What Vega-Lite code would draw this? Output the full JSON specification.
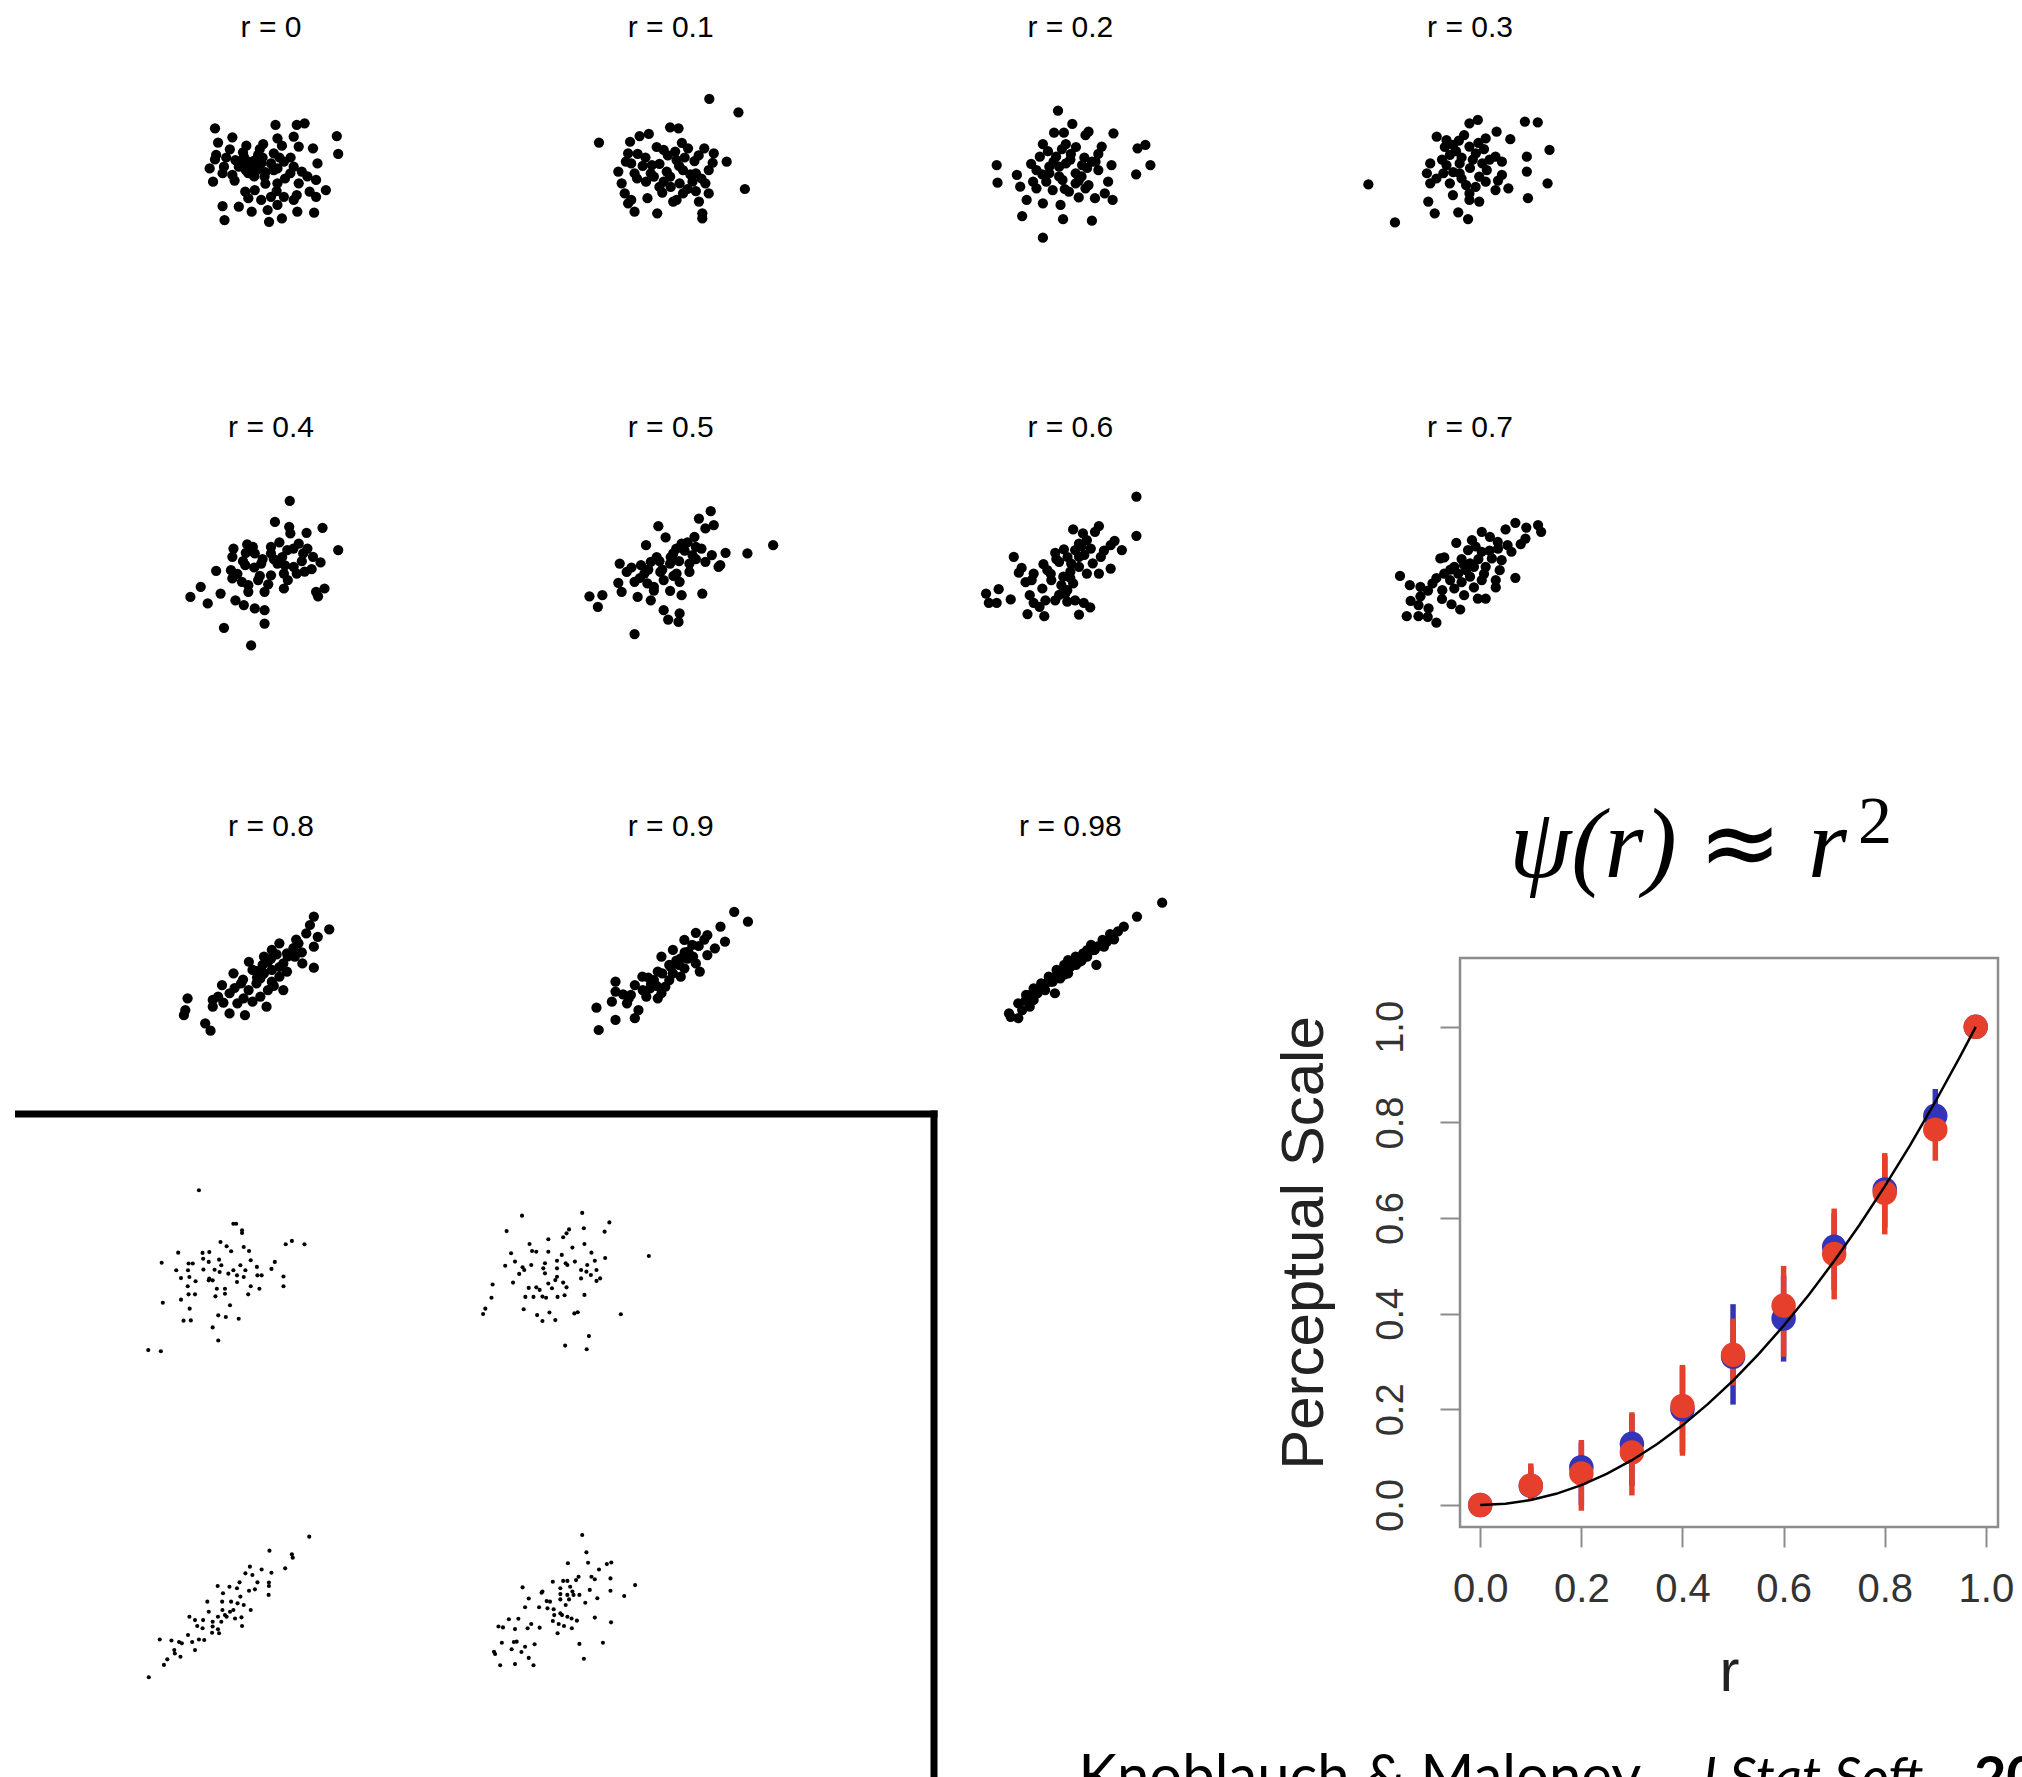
{
"$schema":"https://vega.github.io/schema/vega-lite/v6.json",
"width":2022,"height":1777,
"autosize":{"type":"none"},
"padding":0,
"background":"white",
"config":{"view":{"stroke":null},"font":"Liberation Sans"},
"datasets":{
"panels":[
{"p":"0","label":"r = 0","col":0,"row":0},{"p":"0.1","label":"r = 0.1","col":1,"row":0},{"p":"0.2","label":"r = 0.2","col":2,"row":0},{"p":"0.3","label":"r = 0.3","col":3,"row":0},
{"p":"0.4","label":"r = 0.4","col":0,"row":1},{"p":"0.5","label":"r = 0.5","col":1,"row":1},{"p":"0.6","label":"r = 0.6","col":2,"row":1},{"p":"0.7","label":"r = 0.7","col":3,"row":1},
{"p":"0.8","label":"r = 0.8","col":0,"row":2},{"p":"0.9","label":"r = 0.9","col":1,"row":2},{"p":"0.98","label":"r = 0.98","col":2,"row":2}],
"panels2":[{"q":"a","col":0,"row":0},{"q":"b","col":1,"row":0},{"q":"c","col":0,"row":1},{"q":"d","col":1,"row":1}],
"big":[
{"p":"0","x":-2.0,"y":1.89},{"p":"0","x":0.16,"y":2.05},{"p":"0","x":0.92,"y":2.05},{"p":"0","x":1.2,"y":2.13},{"p":"0","x":2.35,"y":1.52},{"p":"0","x":2.4,"y":0.67},{"p":"0","x":-1.89,"y":1.21},{"p":"0","x":-1.38,"y":1.46},{"p":"0","x":-1.47,"y":0.89},{"p":"0","x":-0.88,"y":1.06},{"p":"0","x":-0.28,"y":1.14},{"p":"0","x":0.23,"y":1.41},{"p":"0","x":0.39,"y":1.06},{"p":"0","x":0.81,"y":1.49},{"p":"0","x":0.99,"y":1.02},{"p":"0","x":1.5,"y":0.94},{"p":"0","x":-1.96,"y":0.62},{"p":"0","x":-2.0,"y":0.41},{"p":"0","x":-1.68,"y":0.06},{"p":"0","x":-2.19,"y":-0.02},{"p":"0","x":-2.07,"y":-0.65},{"p":"0","x":-1.38,"y":-0.33},{"p":"0","x":-1.27,"y":0.38},{"p":"0","x":-0.97,"y":0.54},{"p":"0","x":-0.69,"y":0.06},{"p":"0","x":-0.46,"y":0.62},{"p":"0","x":-0.35,"y":0.22},{"p":"0","x":-0.81,"y":-0.25},{"p":"0","x":0,"y":0.22},{"p":"0","x":0.46,"y":0.3},{"p":"0","x":0.81,"y":0.06},{"p":"0","x":0.69,"y":-0.25},{"p":"0","x":1.1,"y":-0.17},{"p":"0","x":1.66,"y":0.22},{"p":"0","x":0.99,"y":-0.73},{"p":"0","x":1.61,"y":-0.57},{"p":"0","x":1.96,"y":-1.05},{"p":"0","x":1.38,"y":-1.13},{"p":"0","x":1.61,"y":-1.37},{"p":"0","x":-0.92,"y":-1.13},{"p":"0","x":-0.58,"y":-1.05},{"p":"0","x":-0.81,"y":-1.44},{"p":"0","x":-0.35,"y":-1.52},{"p":"0","x":0,"y":-1.37},{"p":"0","x":0.23,"y":-0.73},{"p":"0","x":0.46,"y":-1.37},{"p":"0","x":0.81,"y":-1.52},{"p":"0","x":0.92,"y":-1.29},{"p":"0","x":-1.73,"y":-1.81},{"p":"0","x":-1.15,"y":-1.84},{"p":"0","x":-0.69,"y":-2.08},{"p":"0","x":-0.12,"y":-2.0},{"p":"0","x":0.23,"y":-1.76},{"p":"0","x":0.94,"y":-2.08},{"p":"0","x":1.54,"y":-2.13},{"p":"0","x":-1.66,"y":-2.48},{"p":"0","x":-0.07,"y":-2.56},{"p":"0","x":0.39,"y":-2.4},{"p":"0","x":-0.51,"y":-0.1},{"p":"0","x":-0.23,"y":-0.41},{"p":"0","x":-1.15,"y":0.06},{"p":"0","x":-1.73,"y":-0.25},{"p":"0","x":0.23,"y":-0.02},{"p":"0","x":-0.8,"y":0.3},{"p":"0","x":-0.5,"y":0.0},{"p":"0","x":-0.3,"y":0.5},{"p":"0","x":0.1,"y":-0.1},{"p":"0","x":-0.6,"y":-0.4},
{"p":"0","x":-1.1,"y":0.2},{"p":"0","x":-0.9,"y":-0.1},{"p":"0","x":-0.6,"y":0.35},{"p":"0","x":-0.2,"y":-0.2},{"p":"0","x":0.3,"y":0.5},{"p":"0","x":0.5,"y":-0.5},{"p":"0","x":-1.3,"y":-0.6},{"p":"0","x":0.1,"y":0.7},{"p":"0","x":-0.4,"y":0.9},{"p":"0","x":0.7,"y":0.5},{"p":"0","x":-1.0,"y":0.75},{"p":"0","x":0.2,"y":-1.1},{"p":"0","x":-0.2,"y":-0.75},{"p":"0","x":1.3,"y":-0.4},{"p":"0","x":-1.6,"y":0.5},
{"p":"0.1","x":1.38,"y":3.29},{"p":"0.1","x":2.42,"y":2.65},{"p":"0.1","x":-2.56,"y":1.21},{"p":"0.1","x":-0.02,"y":1.94},{"p":"0.1","x":0.28,"y":1.89},{"p":"0.1","x":-0.78,"y":1.62},{"p":"0.1","x":-1.11,"y":1.52},{"p":"0.1","x":-1.45,"y":1.25},{"p":"0.1","x":-0.25,"y":0.86},{"p":"0.1","x":0.16,"y":0.78},{"p":"0.1","x":0.62,"y":0.94},{"p":"0.1","x":1.2,"y":0.94},{"p":"0.1","x":1.54,"y":0.7},{"p":"0.1","x":-1.52,"y":0.7},{"p":"0.1","x":-1.18,"y":0.67},{"p":"0.1","x":-1.41,"y":0.22},{"p":"0.1","x":-0.67,"y":0.14},{"p":"0.1","x":0.21,"y":0.38},{"p":"0.1","x":0.85,"y":0.33},{"p":"0.1","x":1.5,"y":0.25},{"p":"0.1","x":2.0,"y":0.3},{"p":"0.1","x":-1.87,"y":-0.17},{"p":"0.1","x":-1.29,"y":-0.25},{"p":"0.1","x":-0.71,"y":-0.25},{"p":"0.1","x":-0.14,"y":-0.17},{"p":"0.1","x":0.44,"y":-0.1},{"p":"0.1","x":0.9,"y":-0.25},{"p":"0.1","x":1.36,"y":-0.1},{"p":"0.1","x":-0.88,"y":-0.65},{"p":"0.1","x":-0.25,"y":-0.65},{"p":"0.1","x":0.32,"y":-0.73},{"p":"0.1","x":0.78,"y":-0.65},{"p":"0.1","x":1.24,"y":-0.73},{"p":"0.1","x":2.65,"y":-1.0},{"p":"0.1","x":-1.75,"y":-0.73},{"p":"0.1","x":-1.64,"y":-1.21},{"p":"0.1","x":-1.41,"y":-1.52},{"p":"0.1","x":-0.83,"y":-1.44},{"p":"0.1","x":-0.3,"y":-1.17},{"p":"0.1","x":0.21,"y":-1.52},{"p":"0.1","x":0.44,"y":-1.21},{"p":"0.1","x":1.01,"y":-1.6},{"p":"0.1","x":1.36,"y":-1.21},{"p":"0.1","x":-1.52,"y":-1.68},{"p":"0.1","x":-1.29,"y":-2.08},{"p":"0.1","x":-0.48,"y":-2.16},{"p":"0.1","x":0.09,"y":-1.6},{"p":"0.1","x":1.13,"y":-2.16},{"p":"0.1","x":1.13,"y":-2.4},{"p":"0.1","x":-0.6,"y":-0.41},{"p":"0.1","x":-0.02,"y":-0.41},{"p":"0.1","x":-0.9,"y":0.5},{"p":"0.1","x":0.5,"y":0.5},{"p":"0.1","x":-0.4,"y":-0.9},{"p":"0.1","x":0.6,"y":-1.0},
{"p":"0.1","x":-1.0,"y":0.1},{"p":"0.1","x":-0.4,"y":0.2},{"p":"0.1","x":0.3,"y":0.1},{"p":"0.1","x":1.0,"y":0.6},{"p":"0.1","x":-1.2,"y":-0.5},{"p":"0.1","x":0.0,"y":-0.9},{"p":"0.1","x":0.7,"y":-0.3},{"p":"0.1","x":-0.5,"y":1.0},{"p":"0.1","x":1.1,"y":-0.5},{"p":"0.1","x":-1.6,"y":0.3},{"p":"0.1","x":0.4,"y":1.2},{"p":"0.1","x":0.9,"y":-1.1},{"p":"0.1","x":-0.1,"y":0.6},
{"p":"0.2","x":-0.44,"y":2.73},{"p":"0.2","x":0.07,"y":2.1},{"p":"0.2","x":-0.58,"y":1.68},{"p":"0.2","x":-0.23,"y":1.68},{"p":"0.2","x":0.65,"y":1.73},{"p":"0.2","x":0.54,"y":1.57},{"p":"0.2","x":1.54,"y":1.65},{"p":"0.2","x":-0.98,"y":1.14},{"p":"0.2","x":-0.16,"y":1.14},{"p":"0.2","x":1.12,"y":1.02},{"p":"0.2","x":2.4,"y":0.94},{"p":"0.2","x":2.68,"y":1.1},{"p":"0.2","x":-1.09,"y":0.54},{"p":"0.2","x":-0.51,"y":0.54},{"p":"0.2","x":0.02,"y":0.67},{"p":"0.2","x":1.0,"y":0.67},{"p":"0.2","x":0.77,"y":0.3},{"p":"0.2","x":-1.91,"y":-0.33},{"p":"0.2","x":-1.21,"y":-0.1},{"p":"0.2","x":-0.75,"y":0.06},{"p":"0.2","x":-0.16,"y":0.22},{"p":"0.2","x":0.42,"y":0.14},{"p":"0.2","x":1.0,"y":-0.1},{"p":"0.2","x":1.47,"y":0.14},{"p":"0.2","x":2.86,"y":0.14},{"p":"0.2","x":2.35,"y":-0.3},{"p":"0.2","x":-1.33,"y":-0.65},{"p":"0.2","x":-0.86,"y":-0.65},{"p":"0.2","x":-0.28,"y":-0.57},{"p":"0.2","x":0.19,"y":-0.73},{"p":"0.2","x":0.65,"y":-0.81},{"p":"0.2","x":1.35,"y":-0.65},{"p":"0.2","x":-1.79,"y":-0.89},{"p":"0.2","x":-1.21,"y":-0.97},{"p":"0.2","x":-0.63,"y":-1.05},{"p":"0.2","x":-0.05,"y":-1.13},{"p":"0.2","x":0.54,"y":-0.97},{"p":"0.2","x":1.23,"y":-1.21},{"p":"0.2","x":-1.56,"y":-1.52},{"p":"0.2","x":-0.98,"y":-1.68},{"p":"0.2","x":-0.35,"y":-1.76},{"p":"0.2","x":0.3,"y":-1.4},{"p":"0.2","x":0.88,"y":-1.44},{"p":"0.2","x":1.51,"y":-1.52},{"p":"0.2","x":-1.72,"y":-2.29},{"p":"0.2","x":-0.26,"y":-2.44},{"p":"0.2","x":0.77,"y":-2.51},{"p":"0.2","x":-0.98,"y":-3.32},{"p":"0.2","x":-0.75,"y":-0.25},{"p":"0.2","x":0.19,"y":-0.25},{"p":"0.2","x":-0.4,"y":0.06},{"p":"0.2","x":-2.63,"y":0.14},{"p":"0.2","x":-2.6,"y":-0.7},{"p":"0.2","x":-0.3,"y":0.9},{"p":"0.2","x":0.4,"y":-0.4},
{"p":"0.2","x":-0.6,"y":0.3},{"p":"0.2","x":0.0,"y":0.4},{"p":"0.2","x":0.6,"y":0.0},{"p":"0.2","x":-1.0,"y":-0.3},{"p":"0.2","x":-0.4,"y":-0.4},{"p":"0.2","x":0.3,"y":-0.6},{"p":"0.2","x":0.9,"y":0.3},{"p":"0.2","x":-0.8,"y":0.8},{"p":"0.2","x":0.2,"y":1.0},{"p":"0.2","x":-1.4,"y":0.2},{"p":"0.2","x":0.5,"y":0.5},{"p":"0.2","x":-0.2,"y":-1.0},
{"p":"0.3","x":-0.02,"y":2.13},{"p":"0.3","x":0.28,"y":2.29},{"p":"0.3","x":1.96,"y":2.21},{"p":"0.3","x":2.42,"y":2.17},{"p":"0.3","x":-1.19,"y":1.49},{"p":"0.3","x":-0.84,"y":1.33},{"p":"0.3","x":-0.21,"y":1.57},{"p":"0.3","x":0.95,"y":1.73},{"p":"0.3","x":1.44,"y":1.37},{"p":"0.3","x":-0.61,"y":1.1},{"p":"0.3","x":-0.02,"y":1.02},{"p":"0.3","x":0.56,"y":1.41},{"p":"0.3","x":2.84,"y":0.86},{"p":"0.3","x":-0.72,"y":0.62},{"p":"0.3","x":0.21,"y":0.7},{"p":"0.3","x":0.91,"y":0.54},{"p":"0.3","x":2.03,"y":0.54},{"p":"0.3","x":-1.42,"y":0.22},{"p":"0.3","x":-0.84,"y":0.14},{"p":"0.3","x":-0.37,"y":0.22},{"p":"0.3","x":0.44,"y":0.22},{"p":"0.3","x":1.14,"y":0.3},{"p":"0.3","x":2.03,"y":-0.17},{"p":"0.3","x":-1.54,"y":-0.25},{"p":"0.3","x":-0.95,"y":-0.25},{"p":"0.3","x":-0.37,"y":-0.25},{"p":"0.3","x":0.33,"y":-0.41},{"p":"0.3","x":1.14,"y":-0.33},{"p":"0.3","x":-1.42,"y":-0.73},{"p":"0.3","x":-0.72,"y":-0.73},{"p":"0.3","x":-0.14,"y":-0.81},{"p":"0.3","x":0.56,"y":-0.65},{"p":"0.3","x":1.37,"y":-0.97},{"p":"0.3","x":2.77,"y":-0.73},{"p":"0.3","x":-3.63,"y":-0.78},{"p":"0.3","x":-0.61,"y":-1.29},{"p":"0.3","x":-0.02,"y":-1.21},{"p":"0.3","x":0.33,"y":-1.6},{"p":"0.3","x":0.91,"y":-1.05},{"p":"0.3","x":2.07,"y":-1.44},{"p":"0.3","x":-1.49,"y":-1.6},{"p":"0.3","x":-1.26,"y":-2.16},{"p":"0.3","x":-0.42,"y":-2.11},{"p":"0.3","x":-0.07,"y":-2.43},{"p":"0.3","x":-2.68,"y":-2.59},{"p":"0.3","x":-0.02,"y":-1.52},{"p":"0.3","x":-0.3,"y":0.5},{"p":"0.3","x":0.6,"y":-0.1},{"p":"0.3","x":-0.6,"y":-0.2},{"p":"0.3","x":0.1,"y":0.4},
{"p":"0.3","x":-1.0,"y":0.4},{"p":"0.3","x":-0.5,"y":0.8},{"p":"0.3","x":0.0,"y":0.0},{"p":"0.3","x":0.7,"y":0.4},{"p":"0.3","x":-1.2,"y":-0.5},{"p":"0.3","x":0.2,"y":-0.9},{"p":"0.3","x":0.5,"y":0.9},{"p":"0.3","x":-0.3,"y":-0.5},{"p":"0.3","x":-0.9,"y":1.0},{"p":"0.3","x":1.0,"y":-0.6},{"p":"0.3","x":0.3,"y":1.2},{"p":"0.3","x":-0.4,"y":1.3},
{"p":"0.4","x":0.67,"y":3.17},{"p":"0.4","x":0.14,"y":2.17},{"p":"0.4","x":0.65,"y":1.94},{"p":"0.4","x":0.69,"y":1.62},{"p":"0.4","x":1.27,"y":1.65},{"p":"0.4","x":1.84,"y":1.89},{"p":"0.4","x":-0.85,"y":1.1},{"p":"0.4","x":-1.34,"y":0.9},{"p":"0.4","x":-0.65,"y":0.98},{"p":"0.4","x":0,"y":0.98},{"p":"0.4","x":0.58,"y":0.83},{"p":"0.4","x":0.99,"y":1.14},{"p":"0.4","x":2.4,"y":0.83},{"p":"0.4","x":-1.38,"y":0.51},{"p":"0.4","x":-0.58,"y":0.67},{"p":"0.4","x":0,"y":0.67},{"p":"0.4","x":1.15,"y":0.67},{"p":"0.4","x":1.5,"y":0.51},{"p":"0.4","x":1.77,"y":0.24},{"p":"0.4","x":-1.96,"y":-0.16},{"p":"0.4","x":-1.43,"y":-0.13},{"p":"0.4","x":-0.92,"y":0.11},{"p":"0.4","x":-0.35,"y":0.19},{"p":"0.4","x":0.23,"y":0.19},{"p":"0.4","x":0.81,"y":0.03},{"p":"0.4","x":1.45,"y":-0.08},{"p":"0.4","x":-1.38,"y":-0.52},{"p":"0.4","x":-1.04,"y":-0.68},{"p":"0.4","x":-0.46,"y":-0.6},{"p":"0.4","x":0,"y":-0.37},{"p":"0.4","x":0.46,"y":-0.29},{"p":"0.4","x":0.92,"y":-0.29},{"p":"0.4","x":-2.51,"y":-0.92},{"p":"0.4","x":-2.88,"y":-1.4},{"p":"0.4","x":-2.26,"y":-1.71},{"p":"0.4","x":-1.8,"y":-1.24},{"p":"0.4","x":-1.27,"y":-1.56},{"p":"0.4","x":-0.81,"y":-1.16},{"p":"0.4","x":-0.23,"y":-1.16},{"p":"0.4","x":0.46,"y":-1.0},{"p":"0.4","x":1.61,"y":-1.16},{"p":"0.4","x":1.91,"y":-1.0},{"p":"0.4","x":1.68,"y":-1.37},{"p":"0.4","x":-0.97,"y":-1.79},{"p":"0.4","x":-0.58,"y":-1.95},{"p":"0.4","x":-0.23,"y":-2.03},{"p":"0.4","x":-1.68,"y":-2.87},{"p":"0.4","x":-0.23,"y":-2.67},{"p":"0.4","x":-0.71,"y":-3.71},{"p":"0.4","x":-0.81,"y":-0.84},{"p":"0.4","x":0.4,"y":0.5},{"p":"0.4","x":0.8,"y":0.9},{"p":"0.4","x":-0.3,"y":0.4},{"p":"0.4","x":1.1,"y":0.3},
{"p":"0.4","x":-1.0,"y":0.3},{"p":"0.4","x":-0.6,"y":0.0},{"p":"0.4","x":0.1,"y":0.4},{"p":"0.4","x":0.5,"y":0.1},{"p":"0.4","x":-0.4,"y":-0.4},{"p":"0.4","x":1.3,"y":0.9},{"p":"0.4","x":0.3,"y":1.2},{"p":"0.4","x":-1.2,"y":-0.3},{"p":"0.4","x":0.6,"y":-0.6},{"p":"0.4","x":-0.1,"y":-0.8},{"p":"0.4","x":1.2,"y":-0.2},{"p":"0.4","x":-0.9,"y":0.7},
{"p":"0.5","x":1.43,"y":2.68},{"p":"0.5","x":1.01,"y":2.33},{"p":"0.5","x":1.54,"y":2.02},{"p":"0.5","x":1.24,"y":1.86},{"p":"0.5","x":-0.44,"y":1.97},{"p":"0.5","x":-0.18,"y":1.43},{"p":"0.5","x":0.85,"y":1.46},{"p":"0.5","x":-0.88,"y":1.06},{"p":"0.5","x":0.39,"y":1.14},{"p":"0.5","x":0.9,"y":0.98},{"p":"0.5","x":0.09,"y":0.67},{"p":"0.5","x":0.78,"y":0.59},{"p":"0.5","x":1.47,"y":0.59},{"p":"0.5","x":1.96,"y":0.7},{"p":"0.5","x":2.74,"y":0.67},{"p":"0.5","x":3.66,"y":1.06},{"p":"0.5","x":-1.82,"y":0.19},{"p":"0.5","x":-1.06,"y":0.11},{"p":"0.5","x":-0.71,"y":0.27},{"p":"0.5","x":-0.02,"y":0.19},{"p":"0.5","x":0.67,"y":0.19},{"p":"0.5","x":1.24,"y":0.27},{"p":"0.5","x":1.77,"y":0.11},{"p":"0.5","x":-1.57,"y":-0.21},{"p":"0.5","x":-0.94,"y":-0.29},{"p":"0.5","x":-0.37,"y":-0.21},{"p":"0.5","x":0.21,"y":-0.29},{"p":"0.5","x":0.67,"y":-0.21},{"p":"0.5","x":1.71,"y":0.03},{"p":"0.5","x":-1.87,"y":-0.73},{"p":"0.5","x":-1.29,"y":-0.68},{"p":"0.5","x":-0.83,"y":-0.76},{"p":"0.5","x":-0.25,"y":-0.6},{"p":"0.5","x":0.32,"y":-0.68},{"p":"0.5","x":-1.75,"y":-1.16},{"p":"0.5","x":-1.18,"y":-1.4},{"p":"0.5","x":-0.71,"y":-1.56},{"p":"0.5","x":-0.02,"y":-1.11},{"p":"0.5","x":0.39,"y":-1.32},{"p":"0.5","x":1.13,"y":-1.24},{"p":"0.5","x":-2.9,"y":-1.37},{"p":"0.5","x":-2.44,"y":-1.32},{"p":"0.5","x":-2.6,"y":-1.87},{"p":"0.5","x":-0.25,"y":-2.03},{"p":"0.5","x":0.32,"y":-2.19},{"p":"0.5","x":-0.09,"y":-2.48},{"p":"0.5","x":0.28,"y":-2.59},{"p":"0.5","x":-1.29,"y":-3.17},{"p":"0.5","x":-0.6,"y":-0.92},{"p":"0.5","x":-0.5,"y":0.5},{"p":"0.5","x":0.3,"y":0.3},{"p":"0.5","x":-0.3,"y":-0.1},
{"p":"0.5","x":-0.8,"y":-0.1},{"p":"0.5","x":-0.4,"y":0.3},{"p":"0.5","x":0.0,"y":0.5},{"p":"0.5","x":0.5,"y":0.8},{"p":"0.5","x":-1.1,"y":-0.5},{"p":"0.5","x":0.1,"y":-0.4},{"p":"0.5","x":0.9,"y":0.4},{"p":"0.5","x":-0.6,"y":-1.1},{"p":"0.5","x":0.6,"y":1.2},{"p":"0.5","x":-1.4,"y":0.0},{"p":"0.5","x":0.2,"y":0.9},{"p":"0.5","x":1.1,"y":0.9},
{"p":"0.6","x":2.36,"y":3.37},{"p":"0.6","x":2.36,"y":1.51},{"p":"0.6","x":1.02,"y":1.97},{"p":"0.6","x":0.1,"y":1.81},{"p":"0.6","x":0.45,"y":1.62},{"p":"0.6","x":0.88,"y":1.7},{"p":"0.6","x":1.58,"y":1.27},{"p":"0.6","x":1.84,"y":0.83},{"p":"0.6","x":1.44,"y":1.06},{"p":"0.6","x":0.31,"y":1.14},{"p":"0.6","x":0.59,"y":1.3},{"p":"0.6","x":-0.54,"y":0.7},{"p":"0.6","x":-0.23,"y":0.86},{"p":"0.6","x":0.17,"y":0.83},{"p":"0.6","x":0.73,"y":0.9},{"p":"0.6","x":1.09,"y":0.51},{"p":"0.6","x":-2.02,"y":0.51},{"p":"0.6","x":-1.74,"y":-0.02},{"p":"0.6","x":-1.84,"y":-0.25},{"p":"0.6","x":-0.96,"y":0.16},{"p":"0.6","x":-1.31,"y":-0.29},{"p":"0.6","x":-0.82,"y":-0.13},{"p":"0.6","x":-0.4,"y":0.27},{"p":"0.6","x":0.03,"y":0.19},{"p":"0.6","x":0.31,"y":0.03},{"p":"0.6","x":0.59,"y":-0.29},{"p":"0.6","x":1.02,"y":-0.29},{"p":"0.6","x":1.44,"y":-0.05},{"p":"0.6","x":-1.38,"y":-0.6},{"p":"0.6","x":-0.68,"y":-0.6},{"p":"0.6","x":-0.32,"y":-0.84},{"p":"0.6","x":-0.11,"y":-1.08},{"p":"0.6","x":0.1,"y":-0.76},{"p":"0.6","x":-3.01,"y":-1.24},{"p":"0.6","x":-2.56,"y":-1.03},{"p":"0.6","x":-2.91,"y":-1.68},{"p":"0.6","x":-2.63,"y":-1.68},{"p":"0.6","x":-2.13,"y":-1.52},{"p":"0.6","x":-1.45,"y":-1.32},{"p":"0.6","x":-1.31,"y":-1.68},{"p":"0.6","x":-0.89,"y":-1.56},{"p":"0.6","x":-0.54,"y":-1.56},{"p":"0.6","x":-0.11,"y":-1.63},{"p":"0.6","x":0.17,"y":-1.56},{"p":"0.6","x":0.48,"y":-1.68},{"p":"0.6","x":0.71,"y":-1.9},{"p":"0.6","x":-1.53,"y":-2.22},{"p":"0.6","x":-1.1,"y":-1.87},{"p":"0.6","x":-0.93,"y":-2.32},{"p":"0.6","x":0.31,"y":-2.24},{"p":"0.6","x":-0.18,"y":-1.24},{"p":"0.6","x":-0.25,"y":-0.44},{"p":"0.6","x":0.31,"y":0.51},
{"p":"0.6","x":-0.5,"y":0.4},{"p":"0.6","x":-0.1,"y":0.5},{"p":"0.6","x":0.5,"y":0.6},{"p":"0.6","x":-0.7,"y":-0.3},{"p":"0.6","x":0.0,"y":-0.2},{"p":"0.6","x":0.8,"y":0.2},{"p":"0.6","x":-1.0,"y":-1.0},{"p":"0.6","x":-0.4,"y":-1.3},{"p":"0.6","x":0.4,"y":1.0},{"p":"0.6","x":1.2,"y":0.8},{"p":"0.6","x":-1.6,"y":-0.7},{"p":"0.6","x":0.0,"y":-0.5},
{"p":"0.7","x":1.62,"y":2.13},{"p":"0.7","x":1.27,"y":1.81},{"p":"0.7","x":2.01,"y":1.9},{"p":"0.7","x":2.43,"y":2.02},{"p":"0.7","x":2.54,"y":1.7},{"p":"0.7","x":0.42,"y":1.7},{"p":"0.7","x":-0.49,"y":1.17},{"p":"0.7","x":0.07,"y":1.3},{"p":"0.7","x":0.71,"y":1.46},{"p":"0.7","x":0.99,"y":1.22},{"p":"0.7","x":1.34,"y":1.06},{"p":"0.7","x":1.98,"y":1.38},{"p":"0.7","x":1.81,"y":1.11},{"p":"0.7","x":-0.07,"y":0.83},{"p":"0.7","x":0.42,"y":0.75},{"p":"0.7","x":0.78,"y":0.43},{"p":"0.7","x":1.13,"y":0.35},{"p":"0.7","x":1.48,"y":0.75},{"p":"0.7","x":-1.06,"y":0.43},{"p":"0.7","x":-0.92,"y":0.48},{"p":"0.7","x":-0.56,"y":0.03},{"p":"0.7","x":-0.21,"y":0.11},{"p":"0.7","x":0.14,"y":0.03},{"p":"0.7","x":0.56,"y":0.03},{"p":"0.7","x":1.06,"y":-0.13},{"p":"0.7","x":1.62,"y":-0.49},{"p":"0.7","x":-0.92,"y":-0.29},{"p":"0.7","x":-0.42,"y":-0.29},{"p":"0.7","x":0,"y":-0.44},{"p":"0.7","x":0.42,"y":-0.6},{"p":"0.7","x":0.92,"y":-0.6},{"p":"0.7","x":0.92,"y":-0.95},{"p":"0.7","x":-2.5,"y":-0.4},{"p":"0.7","x":-2.15,"y":-0.84},{"p":"0.7","x":-1.77,"y":-0.92},{"p":"0.7","x":-1.34,"y":-0.76},{"p":"0.7","x":-0.99,"y":-1.08},{"p":"0.7","x":-0.56,"y":-1.0},{"p":"0.7","x":-0.21,"y":-1.32},{"p":"0.7","x":0.14,"y":-0.95},{"p":"0.7","x":-2.12,"y":-1.59},{"p":"0.7","x":-1.77,"y":-1.37},{"p":"0.7","x":-1.84,"y":-1.79},{"p":"0.7","x":-1.48,"y":-1.95},{"p":"0.7","x":-0.66,"y":-1.75},{"p":"0.7","x":-0.35,"y":-2.0},{"p":"0.7","x":0.28,"y":-1.48},{"p":"0.7","x":0.56,"y":-1.48},{"p":"0.7","x":-2.26,"y":-2.32},{"p":"0.7","x":-1.84,"y":-2.32},{"p":"0.7","x":-1.2,"y":-2.63},{"p":"0.7","x":-1.51,"y":-2.35},{"p":"0.7","x":-0.14,"y":-0.13},{"p":"0.7","x":-0.71,"y":-0.6},
{"p":"0.7","x":-0.3,"y":0.4},{"p":"0.7","x":0.3,"y":0.4},{"p":"0.7","x":0.7,"y":0.8},{"p":"0.7","x":-0.7,"y":-0.1},{"p":"0.7","x":0.0,"y":0.2},{"p":"0.7","x":0.5,"y":-0.3},{"p":"0.7","x":-1.2,"y":-0.5},{"p":"0.7","x":-0.3,"y":-0.7},{"p":"0.7","x":1.0,"y":0.9},{"p":"0.7","x":0.2,"y":1.0},{"p":"0.7","x":-1.5,"y":-1.1},{"p":"0.7","x":-1.0,"y":-1.5},
{"p":"0.8","x":1.53,"y":2.4},{"p":"0.8","x":1.39,"y":2.0},{"p":"0.8","x":2.08,"y":1.79},{"p":"0.8","x":1.26,"y":1.6},{"p":"0.8","x":1.67,"y":1.44},{"p":"0.8","x":0.3,"y":1.13},{"p":"0.8","x":0.98,"y":1.13},{"p":"0.8","x":1.53,"y":0.97},{"p":"0.8","x":0.03,"y":0.81},{"p":"0.8","x":0.57,"y":0.65},{"p":"0.8","x":-0.25,"y":0.49},{"p":"0.8","x":0.85,"y":0.49},{"p":"0.8","x":-0.79,"y":0.25},{"p":"0.8","x":-0.11,"y":0.25},{"p":"0.8","x":0.44,"y":0.17},{"p":"0.8","x":1.12,"y":0.17},{"p":"0.8","x":1.53,"y":-0.03},{"p":"0.8","x":-1.34,"y":-0.3},{"p":"0.8","x":-0.66,"y":-0.14},{"p":"0.8","x":-0.25,"y":-0.3},{"p":"0.8","x":0.3,"y":-0.46},{"p":"0.8","x":0.57,"y":-0.22},{"p":"0.8","x":-1.75,"y":-0.86},{"p":"0.8","x":-1.07,"y":-0.78},{"p":"0.8","x":-0.52,"y":-0.78},{"p":"0.8","x":0.03,"y":-0.7},{"p":"0.8","x":0.44,"y":-1.1},{"p":"0.8","x":-1.89,"y":-1.41},{"p":"0.8","x":-1.48,"y":-1.25},{"p":"0.8","x":-0.98,"y":-1.49},{"p":"0.8","x":-0.38,"y":-1.41},{"p":"0.8","x":-0.11,"y":-1.1},{"p":"0.8","x":-2.98,"y":-1.49},{"p":"0.8","x":-2.08,"y":-1.57},{"p":"0.8","x":-1.2,"y":-1.73},{"p":"0.8","x":-0.66,"y":-1.65},{"p":"0.8","x":-3.06,"y":-2.05},{"p":"0.8","x":-2.08,"y":-1.89},{"p":"0.8","x":-1.48,"y":-2.21},{"p":"0.8","x":-0.93,"y":-2.29},{"p":"0.8","x":-0.16,"y":-1.89},{"p":"0.8","x":-2.35,"y":-2.68},{"p":"0.8","x":-2.16,"y":-3.03},{"p":"0.8","x":-3.11,"y":-2.29},{"p":"0.8","x":0.03,"y":-0.14},{"p":"0.8","x":-0.38,"y":-0.54},{"p":"0.8","x":0.2,"y":0.6},{"p":"0.8","x":-0.5,"y":-0.2},{"p":"0.8","x":0.8,"y":0.9},
{"p":"0.8","x":0.0,"y":0.4},{"p":"0.8","x":-0.5,"y":-0.5},{"p":"0.8","x":0.6,"y":0.5},{"p":"0.8","x":-1.0,"y":-0.6},{"p":"0.8","x":0.9,"y":1.3},{"p":"0.8","x":-1.3,"y":-1.0},{"p":"0.8","x":0.3,"y":0.0},{"p":"0.8","x":-0.8,"y":-1.1},{"p":"0.8","x":1.1,"y":0.7},{"p":"0.8","x":-1.7,"y":-1.7},{"p":"0.8","x":-0.3,"y":0.1},{"p":"0.8","x":0.1,"y":-0.9},
{"p":"0.9","x":2.27,"y":2.63},{"p":"0.9","x":2.76,"y":2.16},{"p":"0.9","x":1.78,"y":1.92},{"p":"0.9","x":0.9,"y":1.63},{"p":"0.9","x":1.31,"y":1.52},{"p":"0.9","x":1.94,"y":1.21},{"p":"0.9","x":0.49,"y":1.29},{"p":"0.9","x":0.77,"y":1.05},{"p":"0.9","x":1.58,"y":0.89},{"p":"0.9","x":0.08,"y":0.81},{"p":"0.9","x":0.63,"y":0.73},{"p":"0.9","x":1.31,"y":0.57},{"p":"0.9","x":-0.33,"y":0.49},{"p":"0.9","x":0.36,"y":0.41},{"p":"0.9","x":0.9,"y":0.17},{"p":"0.9","x":-0.05,"y":0.1},{"p":"0.9","x":0.49,"y":-0.06},{"p":"0.9","x":1.04,"y":-0.22},{"p":"0.9","x":-0.46,"y":-0.22},{"p":"0.9","x":0.08,"y":-0.3},{"p":"0.9","x":-1.01,"y":-0.46},{"p":"0.9","x":-0.6,"y":-0.62},{"p":"0.9","x":-0.05,"y":-0.62},{"p":"0.9","x":-1.97,"y":-0.7},{"p":"0.9","x":-1.28,"y":-0.86},{"p":"0.9","x":-0.74,"y":-1.02},{"p":"0.9","x":-0.19,"y":-0.94},{"p":"0.9","x":-1.97,"y":-1.17},{"p":"0.9","x":-1.42,"y":-1.33},{"p":"0.9","x":-0.87,"y":-1.41},{"p":"0.9","x":-0.46,"y":-1.49},{"p":"0.9","x":-2.1,"y":-1.65},{"p":"0.9","x":-1.56,"y":-1.73},{"p":"0.9","x":-2.65,"y":-1.94},{"p":"0.9","x":-1.15,"y":-2.05},{"p":"0.9","x":-1.28,"y":-2.44},{"p":"0.9","x":-1.97,"y":-2.52},{"p":"0.9","x":-2.57,"y":-3.0},{"p":"0.9","x":0.36,"y":-0.46},{"p":"0.9","x":-0.33,"y":-1.25},{"p":"0.9","x":0.2,"y":0.3},{"p":"0.9","x":-0.7,"y":-0.8},{"p":"0.9","x":1.0,"y":1.0},{"p":"0.9","x":-1.5,"y":-1.5},{"p":"0.9","x":0.6,"y":0.4},
{"p":"0.9","x":0.0,"y":0.0},{"p":"0.9","x":-0.3,"y":-0.3},{"p":"0.9","x":0.5,"y":0.7},{"p":"0.9","x":-1.0,"y":-1.1},{"p":"0.9","x":1.2,"y":1.3},{"p":"0.9","x":-0.8,"y":-0.5},{"p":"0.9","x":0.3,"y":0.1},{"p":"0.9","x":-1.7,"y":-1.3},{"p":"0.9","x":0.8,"y":0.5},{"p":"0.9","x":-0.5,"y":-0.9},
{"p":"0.98","x":3.28,"y":3.06},{"p":"0.98","x":2.38,"y":2.4},{"p":"0.98","x":1.91,"y":1.92},{"p":"0.98","x":1.42,"y":1.57},{"p":"0.98","x":1.15,"y":1.29},{"p":"0.98","x":0.74,"y":1.05},{"p":"0.98","x":0.87,"y":0.81},{"p":"0.98","x":0.46,"y":0.65},{"p":"0.98","x":0.19,"y":0.49},{"p":"0.98","x":-0.08,"y":0.33},{"p":"0.98","x":0.33,"y":0.25},{"p":"0.98","x":0.93,"y":0.1},{"p":"0.98","x":-0.22,"y":0.1},{"p":"0.98","x":-0.49,"y":-0.14},{"p":"0.98","x":-0.08,"y":-0.3},{"p":"0.98","x":-0.77,"y":-0.46},{"p":"0.98","x":-0.63,"y":-0.7},{"p":"0.98","x":-1.04,"y":-0.78},{"p":"0.98","x":-1.31,"y":-1.02},{"p":"0.98","x":-0.9,"y":-1.1},{"p":"0.98","x":-0.55,"y":-1.25},{"p":"0.98","x":-1.58,"y":-1.33},{"p":"0.98","x":-1.31,"y":-1.57},{"p":"0.98","x":-1.86,"y":-1.73},{"p":"0.98","x":-1.45,"y":-1.89},{"p":"0.98","x":-2.19,"y":-2.21},{"p":"0.98","x":-1.86,"y":-2.44},{"p":"0.98","x":-2.13,"y":-2.37},{"p":"0.98","x":1.56,"y":1.32},{"p":"0.98","x":1.2,"y":0.97},{"p":"0.98","x":0.6,"y":0.49},{"p":"0.98","x":-0.36,"y":-0.54},{"p":"0.98","x":-1.17,"y":-1.25},{"p":"0.98","x":-1.72,"y":-2.05},{"p":"0.98","x":0.0,"y":0.0},{"p":"0.98","x":0.3,"y":0.4},{"p":"0.98","x":-0.3,"y":-0.2},{"p":"0.98","x":-0.6,"y":-0.5},{"p":"0.98","x":0.6,"y":0.8},{"p":"0.98","x":1.0,"y":1.0},{"p":"0.98","x":-1.0,"y":-1.0},{"p":"0.98","x":-1.4,"y":-1.3},{"p":"0.98","x":0.2,"y":0.1},{"p":"0.98","x":-0.2,"y":-0.35},
{"p":"0.98","x":-0.4,"y":-0.4},{"p":"0.98","x":0.4,"y":0.3},{"p":"0.98","x":-0.9,"y":-0.8},{"p":"0.98","x":0.8,"y":0.8},{"p":"0.98","x":-1.6,"y":-1.6},{"p":"0.98","x":1.3,"y":1.2},{"p":"0.98","x":0.1,"y":0.2},{"p":"0.98","x":-1.2,"y":-1.1},{"p":"0.98","x":-0.7,"y":-0.7},{"p":"0.98","x":1.7,"y":1.7}
],
"small":[
{"q":"a","x":-1.11,"y":3.1},{"q":"a","x":0.12,"y":1.9},{"q":"a","x":0.22,"y":1.9},{"q":"a","x":0.43,"y":1.67},{"q":"a","x":0.43,"y":1.57},{"q":"a","x":1.99,"y":1.17},{"q":"a","x":2.21,"y":1.29},{"q":"a","x":2.66,"y":1.17},{"q":"a","x":-1.85,"y":0.87},{"q":"a","x":-0.98,"y":0.86},{"q":"a","x":-0.74,"y":0.89},{"q":"a","x":-0.34,"y":1.25},{"q":"a","x":-0.12,"y":1.1},{"q":"a","x":0.04,"y":0.92},{"q":"a","x":0.49,"y":1.07},{"q":"a","x":0.68,"y":0.93},{"q":"a","x":-2.44,"y":0.51},{"q":"a","x":-1.48,"y":0.48},{"q":"a","x":-1.33,"y":0.48},{"q":"a","x":-0.96,"y":0.65},{"q":"a","x":-0.76,"y":0.54},{"q":"a","x":-0.39,"y":0.62},{"q":"a","x":-0.31,"y":0.42},{"q":"a","x":0.74,"y":0.6},{"q":"a","x":1.6,"y":0.54},{"q":"a","x":-1.92,"y":0.24},{"q":"a","x":-1.5,"y":0.24},{"q":"a","x":-0.95,"y":0.27},{"q":"a","x":-0.55,"y":0.26},{"q":"a","x":0.12,"y":0.24},{"q":"a","x":0.37,"y":0.42},{"q":"a","x":0.55,"y":0.24},{"q":"a","x":0.96,"y":0.36},{"q":"a","x":1.48,"y":0.29},{"q":"a","x":-1.75,"y":-0.04},{"q":"a","x":-1.45,"y":0},{"q":"a","x":-1.23,"y":-0.15},{"q":"a","x":-0.74,"y":-0.06},{"q":"a","x":-0.37,"y":0.18},{"q":"a","x":-0.06,"y":0.12},{"q":"a","x":0.25,"y":0.06},{"q":"a","x":0.49,"y":0},{"q":"a","x":0.98,"y":0.06},{"q":"a","x":1.13,"y":0.06},{"q":"a","x":1.91,"y":0.02},{"q":"a","x":-1.51,"y":-0.33},{"q":"a","x":-0.76,"y":-0.12},{"q":"a","x":-0.47,"y":-0.42},{"q":"a","x":-0.18,"y":-0.42},{"q":"a","x":0.25,"y":-0.18},{"q":"a","x":0.74,"y":-0.33},{"q":"a","x":1.05,"y":-0.42},{"q":"a","x":1.91,"y":-0.33},{"q":"a","x":-1.48,"y":-0.62},{"q":"a","x":-1.25,"y":-0.62},{"q":"a","x":-0.52,"y":-0.69},{"q":"a","x":-0.18,"y":-0.6},{"q":"a","x":0.65,"y":-0.62},{"q":"a","x":-2.4,"y":-0.92},{"q":"a","x":-1.75,"y":-0.81},{"q":"a","x":0,"y":-1.01},{"q":"a","x":-1.44,"y":-1.13},{"q":"a","x":-0.42,"y":-1.37},{"q":"a","x":-0.15,"y":-1.43},{"q":"a","x":0.31,"y":-1.49},{"q":"a","x":-1.66,"y":-1.56},{"q":"a","x":-1.4,"y":-1.55},{"q":"a","x":-0.62,"y":-1.8},{"q":"a","x":-0.42,"y":-2.27},{"q":"a","x":-2.92,"y":-2.61},{"q":"a","x":-2.47,"y":-2.65},{"q":"a","x":-0.62,"y":-0.12},
{"q":"b","x":-1.25,"y":2.19},{"q":"b","x":0.9,"y":2.29},{"q":"b","x":1.87,"y":1.95},{"q":"b","x":-1.8,"y":1.64},{"q":"b","x":0.96,"y":1.74},{"q":"b","x":1.7,"y":1.62},{"q":"b","x":0.43,"y":1.7},{"q":"b","x":0.34,"y":1.56},{"q":"b","x":0.22,"y":1.42},{"q":"b","x":-0.31,"y":1.35},{"q":"b","x":-0.98,"y":1.18},{"q":"b","x":0.98,"y":1.18},{"q":"b","x":0.55,"y":1.05},{"q":"b","x":-1.64,"y":0.85},{"q":"b","x":-0.89,"y":0.93},{"q":"b","x":-0.74,"y":0.9},{"q":"b","x":-0.31,"y":0.9},{"q":"b","x":0.17,"y":0.79},{"q":"b","x":1.23,"y":0.87},{"q":"b","x":1.72,"y":0.68},{"q":"b","x":-1.5,"y":0.55},{"q":"b","x":-0.92,"y":0.43},{"q":"b","x":-1.23,"y":0.35},{"q":"b","x":-1.85,"y":0.4},{"q":"b","x":-0.43,"y":0.49},{"q":"b","x":0,"y":0.58},{"q":"b","x":0.31,"y":0.49},{"q":"b","x":0.64,"y":0.55},{"q":"b","x":1.35,"y":0.58},{"q":"b","x":-1.35,"y":0.11},{"q":"b","x":-1.17,"y":0.25},{"q":"b","x":-0.49,"y":0.31},{"q":"b","x":0,"y":0.31},{"q":"b","x":0.37,"y":0.43},{"q":"b","x":0.86,"y":0.25},{"q":"b","x":1.05,"y":0.19},{"q":"b","x":1.41,"y":0.25},{"q":"b","x":1.08,"y":0.43},{"q":"b","x":-1.57,"y":-0.2},{"q":"b","x":-0.43,"y":0.13},{"q":"b","x":0,"y":0.01},{"q":"b","x":0.86,"y":-0.05},{"q":"b","x":1.21,"y":0.07},{"q":"b","x":1.54,"y":-0.05},{"q":"b","x":1.41,"y":-0.14},{"q":"b","x":-2.3,"y":-0.27},{"q":"b","x":-1.01,"y":-0.39},{"q":"b","x":-0.74,"y":-0.37},{"q":"b","x":-0.62,"y":-0.46},{"q":"b","x":-0.31,"y":-0.23},{"q":"b","x":-0.18,"y":-0.4},{"q":"b","x":0.22,"y":-0.2},{"q":"b","x":0.34,"y":-0.37},{"q":"b","x":-2.34,"y":-0.74},{"q":"b","x":-1.13,"y":-0.71},{"q":"b","x":-0.84,"y":-0.71},{"q":"b","x":-0.52,"y":-0.7},{"q":"b","x":-0.39,"y":-0.74},{"q":"b","x":0.02,"y":-0.71},{"q":"b","x":0.27,"y":-0.65},{"q":"b","x":0.98,"y":-0.64},{"q":"b","x":-2.56,"y":-1.13},{"q":"b","x":-2.64,"y":-1.32},{"q":"b","x":-1.19,"y":-1.15},{"q":"b","x":-0.71,"y":-1.36},{"q":"b","x":-0.52,"y":-1.57},{"q":"b","x":-0.27,"y":-1.27},{"q":"b","x":-0.06,"y":-1.54},{"q":"b","x":0.62,"y":-1.3},{"q":"b","x":0.74,"y":-1.26},{"q":"b","x":2.28,"y":-1.33},{"q":"b","x":1.14,"y":-2.11},{"q":"b","x":0.29,"y":-2.45},{"q":"b","x":1.06,"y":-2.58},{"q":"b","x":3.28,"y":0.75},{"q":"b","x":-0.06,"y":-0.11},
{"q":"c","x":2.83,"y":2.44},{"q":"c","x":1.41,"y":1.94},{"q":"c","x":2.21,"y":1.81},{"q":"c","x":2.24,"y":1.69},{"q":"c","x":1.97,"y":1.31},{"q":"c","x":1.13,"y":1.27},{"q":"c","x":1.48,"y":1.15},{"q":"c","x":0.71,"y":1.37},{"q":"c","x":0.55,"y":1.13},{"q":"c","x":0.8,"y":1.07},{"q":"c","x":0.98,"y":0.81},{"q":"c","x":1.39,"y":0.8},{"q":"c","x":1.39,"y":0.68},{"q":"c","x":1.38,"y":0.36},{"q":"c","x":0.34,"y":0.81},{"q":"c","x":-0.02,"y":0.65},{"q":"c","x":-0.44,"y":0.68},{"q":"c","x":-0.25,"y":0.42},{"q":"c","x":0.25,"y":0.6},{"q":"c","x":0.37,"y":0.3},{"q":"c","x":0.68,"y":0.51},{"q":"c","x":0.89,"y":0.56},{"q":"c","x":-0.81,"y":0.12},{"q":"c","x":-0.28,"y":0.12},{"q":"c","x":0.04,"y":0.12},{"q":"c","x":0.27,"y":0.06},{"q":"c","x":-0.27,"y":-0.18},{"q":"c","x":0.12,"y":-0.18},{"q":"c","x":0.49,"y":0},{"q":"c","x":0.74,"y":-0.18},{"q":"c","x":-0.76,"y":-0.24},{"q":"c","x":-0.43,"y":-0.42},{"q":"c","x":-0.12,"y":-0.42},{"q":"c","x":0.18,"y":-0.48},{"q":"c","x":0.41,"y":-0.44},{"q":"c","x":-1.45,"y":-0.42},{"q":"c","x":-1.25,"y":-0.54},{"q":"c","x":-0.96,"y":-0.54},{"q":"c","x":-0.62,"y":-0.6},{"q":"c","x":-0.31,"y":-0.6},{"q":"c","x":-1.17,"y":-0.75},{"q":"c","x":-0.98,"y":-0.83},{"q":"c","x":-0.62,"y":-0.77},{"q":"c","x":-0.43,"y":-0.87},{"q":"c","x":0.43,"y":-0.75},{"q":"c","x":-0.64,"y":-0.99},{"q":"c","x":-0.39,"y":-1.01},{"q":"c","x":-1.5,"y":-1.07},{"q":"c","x":-1.72,"y":-1.37},{"q":"c","x":-1.35,"y":-1.32},{"q":"c","x":-1.11,"y":-1.23},{"q":"c","x":-0.92,"y":-1.25},{"q":"c","x":-2.51,"y":-1.23},{"q":"c","x":-2.09,"y":-1.27},{"q":"c","x":-1.82,"y":-1.32},{"q":"c","x":-1.99,"y":-1.61},{"q":"c","x":-1.97,"y":-1.73},{"q":"c","x":-1.25,"y":-1.61},{"q":"c","x":-1.77,"y":-1.85},{"q":"c","x":-2.24,"y":-1.94},{"q":"c","x":-2.36,"y":-2.14},{"q":"c","x":-2.9,"y":-2.58},{"q":"c","x":-0.18,"y":-0.36},{"q":"c","x":0,"y":-0.24},
{"q":"d","x":0.9,"y":2.5},{"q":"d","x":1.05,"y":1.88},{"q":"d","x":0.39,"y":1.49},{"q":"d","x":1.11,"y":1.51},{"q":"d","x":1.78,"y":1.46},{"q":"d","x":1.94,"y":1.52},{"q":"d","x":1.5,"y":1.27},{"q":"d","x":-0.15,"y":0.83},{"q":"d","x":0.22,"y":0.86},{"q":"d","x":0.37,"y":0.86},{"q":"d","x":0.68,"y":0.89},{"q":"d","x":0.77,"y":1.01},{"q":"d","x":1.23,"y":1.01},{"q":"d","x":1.35,"y":0.92},{"q":"d","x":1.91,"y":0.95},{"q":"d","x":-1.23,"y":0.63},{"q":"d","x":-0.52,"y":0.48},{"q":"d","x":0.12,"y":0.6},{"q":"d","x":0.47,"y":0.65},{"q":"d","x":0.55,"y":0.48},{"q":"d","x":0.12,"y":0.39},{"q":"d","x":0.37,"y":0.36},{"q":"d","x":0.59,"y":0.36},{"q":"d","x":0.8,"y":0.36},{"q":"d","x":1.17,"y":0.54},{"q":"d","x":1.91,"y":0.51},{"q":"d","x":2.79,"y":0.71},{"q":"d","x":2.4,"y":0.32},{"q":"d","x":-1.01,"y":0.23},{"q":"d","x":-0.55,"y":0.44},{"q":"d","x":-0.25,"y":0.12},{"q":"d","x":0.12,"y":0.2},{"q":"d","x":0.43,"y":0.2},{"q":"d","x":1.01,"y":0.08},{"q":"d","x":1.44,"y":0.24},{"q":"d","x":-1.14,"y":-0.08},{"q":"d","x":-0.64,"y":-0.08},{"q":"d","x":-0.37,"y":0.14},{"q":"d","x":-0.34,"y":-0.12},{"q":"d","x":-0.12,"y":-0.15},{"q":"d","x":0.31,"y":0},{"q":"d","x":-0.1,"y":-0.36},{"q":"d","x":0.18,"y":-0.36},{"q":"d","x":0.37,"y":-0.42},{"q":"d","x":0.52,"y":-0.48},{"q":"d","x":0.71,"y":-0.56},{"q":"d","x":1.35,"y":-0.45},{"q":"d","x":1.93,"y":-0.62},{"q":"d","x":-1.72,"y":-0.51},{"q":"d","x":-1.38,"y":-0.49},{"q":"d","x":-2.09,"y":-0.77},{"q":"d","x":-1.93,"y":-0.8},{"q":"d","x":-1.5,"y":-0.86},{"q":"d","x":-1.05,"y":-0.83},{"q":"d","x":-0.92,"y":-0.68},{"q":"d","x":-0.62,"y":-0.81},{"q":"d","x":-0.15,"y":-0.57},{"q":"d","x":0.06,"y":-0.68},{"q":"d","x":0.25,"y":-0.75},{"q":"d","x":0.53,"y":-0.83},{"q":"d","x":0.02,"y":-1.01},{"q":"d","x":-1.97,"y":-1.35},{"q":"d","x":-1.54,"y":-1.32},{"q":"d","x":-1.44,"y":-1.31},{"q":"d","x":-1.14,"y":-1.49},{"q":"d","x":-0.8,"y":-1.4},{"q":"d","x":-2.25,"y":-1.67},{"q":"d","x":-2.21,"y":-1.75},{"q":"d","x":-1.62,"y":-1.58},{"q":"d","x":-1.27,"y":-1.68},{"q":"d","x":-1.01,"y":-1.89},{"q":"d","x":-2.03,"y":-2.15},{"q":"d","x":-1.5,"y":-2.11},{"q":"d","x":-0.84,"y":-2.15},{"q":"d","x":0.8,"y":-1.39},{"q":"d","x":1.64,"y":-1.35},{"q":"d","x":0.96,"y":-1.92},{"q":"d","x":0.12,"y":-0.3}
],
"pscale":[
{"g":"b","r":0,"v":0,"lo":0,"hi":0},{"g":"b","r":0.1,"v":0.04,"lo":0.01,"hi":0.08},{"g":"b","r":0.2,"v":0.079,"lo":0.0,"hi":0.13},{"g":"b","r":0.3,"v":0.128,"lo":0.04,"hi":0.19},{"g":"b","r":0.4,"v":0.2,"lo":0.11,"hi":0.29},{"g":"b","r":0.5,"v":0.31,"lo":0.21,"hi":0.42},{"g":"b","r":0.6,"v":0.39,"lo":0.3,"hi":0.48},{"g":"b","r":0.7,"v":0.54,"lo":0.45,"hi":0.61},{"g":"b","r":0.8,"v":0.66,"lo":0.58,"hi":0.73},{"g":"b","r":0.9,"v":0.814,"lo":0.76,"hi":0.87},{"g":"b","r":0.98,"v":1.0,"lo":1.0,"hi":1.0},
{"g":"r","r":0,"v":0,"lo":0,"hi":0},{"g":"r","r":0.1,"v":0.041,"lo":0.012,"hi":0.087},{"g":"r","r":0.2,"v":0.066,"lo":-0.012,"hi":0.136},{"g":"r","r":0.3,"v":0.11,"lo":0.02,"hi":0.194},{"g":"r","r":0.4,"v":0.207,"lo":0.103,"hi":0.293},{"g":"r","r":0.5,"v":0.314,"lo":0.25,"hi":0.39},{"g":"r","r":0.6,"v":0.417,"lo":0.31,"hi":0.5},{"g":"r","r":0.7,"v":0.525,"lo":0.43,"hi":0.62},{"g":"r","r":0.8,"v":0.653,"lo":0.566,"hi":0.736},{"g":"r","r":0.9,"v":0.785,"lo":0.72,"hi":0.814},{"g":"r","r":0.98,"v":1.0,"lo":1.0,"hi":1.0}],
"curve":[
{"r":0,"v":0},{"r":0.05,"v":0.0026},{"r":0.1,"v":0.0104},{"r":0.15,"v":0.0234},{"r":0.2,"v":0.0416},{"r":0.25,"v":0.0651},{"r":0.3,"v":0.0937},{"r":0.35,"v":0.1276},{"r":0.4,"v":0.1666},{"r":0.45,"v":0.2109},{"r":0.5,"v":0.2603},{"r":0.55,"v":0.315},{"r":0.6,"v":0.3748},{"r":0.65,"v":0.4399},{"r":0.7,"v":0.5102},{"r":0.75,"v":0.5857},{"r":0.8,"v":0.6664},{"r":0.85,"v":0.7523},{"r":0.9,"v":0.8434},{"r":0.95,"v":0.9397},{"r":0.98,"v":1.0}]
},
"layer":[
{
"layer":[
{"data":{"name":"big"},
"transform":[{"lookup":"p","from":{"data":{"name":"panels"},"key":"p","fields":["col","row"]}}],
"mark":{"type":"circle","size":105,"opacity":1,"color":"black"},
"encoding":{
"x":{"field":"col","type":"ordinal","scale":{"type":"point","domain":[0,1,2,3],"range":[271,1470],"padding":0},"axis":null},
"y":{"field":"row","type":"ordinal","scale":{"type":"point","domain":[0,1,2],"range":[168,967],"padding":0},"axis":null},
"xOffset":{"field":"x","type":"quantitative","scale":{"domain":[-4,4],"range":[-112,112]}},
"yOffset":{"field":"y","type":"quantitative","scale":{"domain":[-4,4],"range":[84,-84]}}}},
{"data":{"name":"panels"},
"mark":{"type":"text","dy":-131,"baseline":"alphabetic","align":"center","fontSize":30,"font":"Liberation Sans","color":"black"},
"encoding":{
"x":{"field":"col","type":"ordinal","axis":null},
"y":{"field":"row","type":"ordinal","axis":null},
"text":{"field":"label"}}}
]},
{
"data":{"name":"small"},
"transform":[{"lookup":"q","from":{"data":{"name":"panels2"},"key":"q","fields":["col","row"]}}],
"mark":{"type":"circle","size":17,"opacity":1,"color":"black"},
"encoding":{
"x":{"field":"col","type":"ordinal","scale":{"type":"point","domain":[0,1],"range":[230,557],"padding":0},"axis":null},
"y":{"field":"row","type":"ordinal","scale":{"type":"point","domain":[0,1],"range":[1277,1605],"padding":0},"axis":null},
"xOffset":{"field":"x","type":"quantitative","scale":{"domain":[-4,4],"range":[-112,112]}},
"yOffset":{"field":"y","type":"quantitative","scale":{"domain":[-4,4],"range":[112,-112]}}}
},
{
"data":{"values":[{}]},
"layer":[
{"mark":{"type":"rule","color":"black","strokeWidth":7,"strokeCap":"square"},
"encoding":{
"x":{"datum":0,"type":"quantitative","scale":{"domain":[0,1],"range":[18.5,934],"nice":false,"zero":false},"axis":null},
"x2":{"datum":1},
"y":{"datum":0,"type":"quantitative","scale":{"domain":[0,1],"range":[1114,1800],"nice":false,"zero":false},"axis":null}}},
{"mark":{"type":"rule","color":"black","strokeWidth":7,"strokeCap":"square"},
"encoding":{
"x":{"datum":1,"type":"quantitative","axis":null},
"y":{"datum":0,"type":"quantitative","axis":null},
"y2":{"datum":1}}}
]},
{
"layer":[
{"data":{"values":[{}]},
"mark":{"type":"rect","color":"white","fillOpacity":0,"stroke":"#8c8c8c","strokeWidth":2.5},
"encoding":{
"x":{"datum":-0.04,"type":"quantitative","scale":{"domain":[-0.04,1.024],"range":[1460,1998],"nice":false,"zero":false},
"axis":{"orient":"bottom","offset":-250,"values":[0,0.2,0.4,0.6,0.8,1],"format":".1f","grid":false,"domain":false,"tickSize":20,"tickWidth":2,"tickColor":"#8c8c8c","labelFontSize":40,"labelFont":"Liberation Sans","labelColor":"#333333","labelPadding":22,"labelFlush":false,"labelOverlap":false,"title":"r","titleFontSize":60,"titleFont":"Liberation Sans","titleFontWeight":"normal","titleColor":"#222222","titlePadding":34}},
"x2":{"datum":1.024},
"y":{"datum":-0.046,"type":"quantitative","scale":{"domain":[-0.046,1.144],"range":[1527,958],"nice":false,"zero":false},
"axis":{"orient":"left","offset":-1460,"values":[0,0.2,0.4,0.6,0.8,1],"format":".1f","grid":false,"domain":false,"tickSize":20,"tickWidth":2,"tickColor":"#8c8c8c","labelFontSize":38,"labelFont":"Liberation Sans","labelColor":"#333333","labelAngle":270,"labelAlign":"center","labelBaseline":"bottom","labelPadding":30,"labelFlush":false,"labelOverlap":false,"title":"Perceptual Scale","titleFontSize":60,"titleFont":"Liberation Sans","titleFontWeight":"normal","titleColor":"#222222","titlePadding":37}},
"y2":{"datum":1.144}}},
{"data":{"name":"pscale"},
"mark":{"type":"rule","strokeWidth":5.5,"opacity":1},
"encoding":{
"x":{"field":"r","type":"quantitative","title":"r"},
"y":{"field":"lo","type":"quantitative","title":"Perceptual Scale"},
"y2":{"field":"hi"},
"color":{"field":"g","type":"nominal","scale":{"domain":["b","r"],"range":["#3434b8","#e6402c"]},"legend":null}}},
{"data":{"name":"pscale"},
"mark":{"type":"circle","size":600,"opacity":1},
"encoding":{
"x":{"field":"r","type":"quantitative","title":"r"},
"y":{"field":"v","type":"quantitative","title":"Perceptual Scale"},
"color":{"field":"g","type":"nominal","legend":null}}},
{"data":{"name":"curve"},
"mark":{"type":"line","color":"black","strokeWidth":2.5},
"encoding":{
"x":{"field":"r","type":"quantitative","title":"r"},
"y":{"field":"v","type":"quantitative","title":"Perceptual Scale"}}},
{"data":{"values":[{}]},
"mark":{"type":"text","text":"ψ(r)","font":"Liberation Serif","fontStyle":"italic","fontSize":100,"align":"left","baseline":"alphabetic","color":"black"},
"encoding":{"x":{"datum":0.0573,"type":"quantitative"},"y":{"datum":1.3138,"type":"quantitative"}}},
{"data":{"values":[{}]},
"mark":{"type":"text","text":"≈","font":"DejaVu Sans","fontSize":100,"align":"center","baseline":"alphabetic","color":"black"},
"encoding":{"x":{"datum":0.5138,"type":"quantitative"},"y":{"datum":1.3138,"type":"quantitative"}}},
{"data":{"values":[{}]},
"mark":{"type":"text","text":"r","font":"Liberation Serif","fontStyle":"italic","fontSize":100,"align":"left","baseline":"alphabetic","color":"black"},
"encoding":{"x":{"datum":0.648,"type":"quantitative"},"y":{"datum":1.3138,"type":"quantitative"}}},
{"data":{"values":[{}]},
"mark":{"type":"text","text":"2","font":"Liberation Serif","fontSize":68,"align":"left","baseline":"alphabetic","color":"black"},
"encoding":{"x":{"datum":0.7471,"type":"quantitative"},"y":{"datum":1.385,"type":"quantitative"}}},
{"data":{"values":[{}]},
"mark":{"type":"text","text":"Knoblauch & Maloney","font":"Lato","fontSize":58,"align":"left","baseline":"alphabetic","color":"black"},
"encoding":{"x":{"datum":-0.7945,"type":"quantitative"},"y":{"datum":-0.6088,"type":"quantitative"}}},
{"data":{"values":[{}]},
"mark":{"type":"text","text":"J Stat Soft","font":"Lato","fontStyle":"italic","fontSize":54,"align":"left","baseline":"alphabetic","color":"black"},
"encoding":{"x":{"datum":0.4249,"type":"quantitative"},"y":{"datum":-0.6088,"type":"quantitative"}}},
{"data":{"values":[{}]},
"mark":{"type":"text","text":"2008","font":"Lato","fontWeight":"bold","fontSize":56,"align":"left","baseline":"alphabetic","color":"black"},
"encoding":{"x":{"datum":0.9763,"type":"quantitative"},"y":{"datum":-0.6088,"type":"quantitative"}}}
]}
],
"resolve":{"scale":{"x":"independent","y":"independent","xOffset":"independent","yOffset":"independent","color":"independent"},"axis":{"x":"independent","y":"independent"}}
}
